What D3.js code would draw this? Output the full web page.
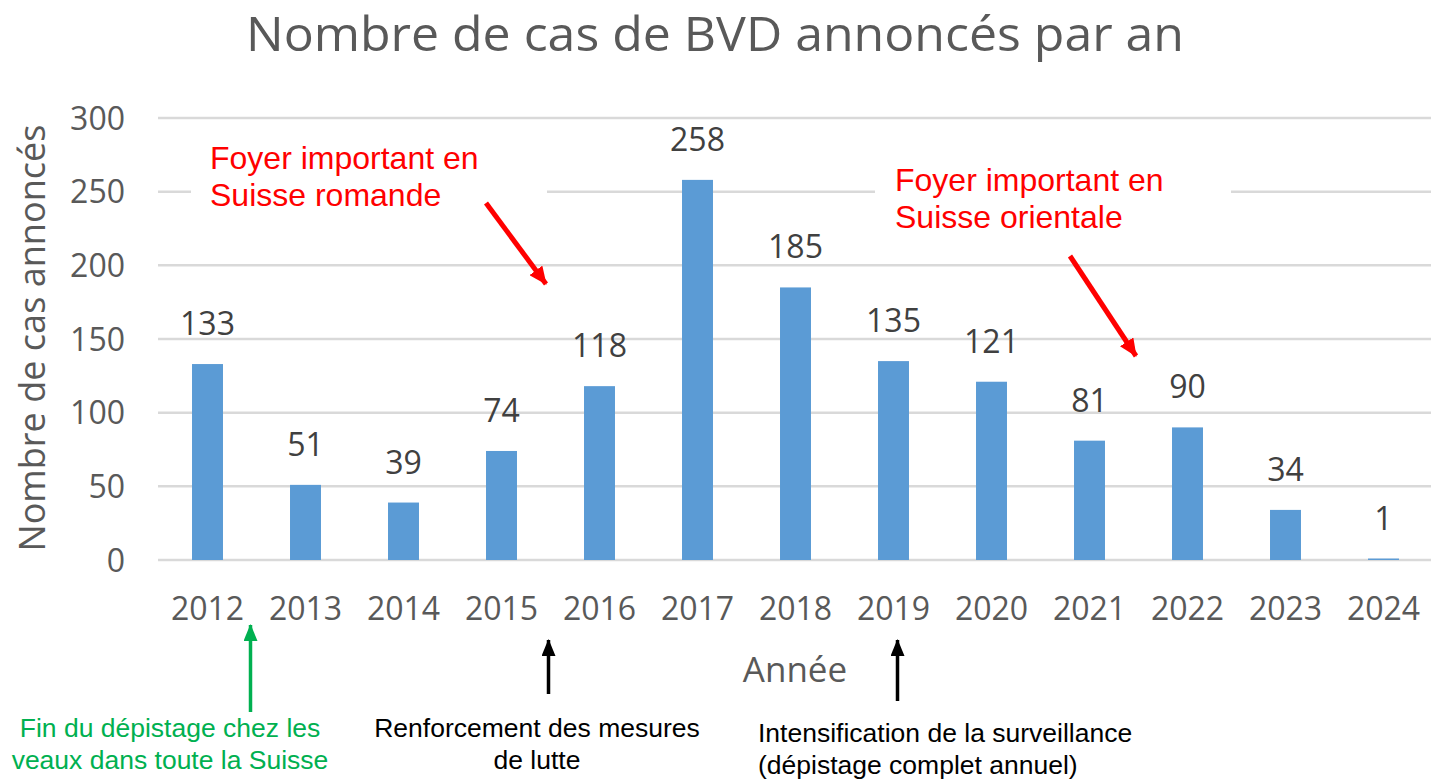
<!DOCTYPE html>
<html>
<head>
<meta charset="utf-8">
<script src="https://cdn.jsdelivr.net/npm/d3@7"></script>
<style>
  html, body { margin: 0; padding: 0; background: #fff; }
  svg { display: block; }
</style>
</head>
<body>
<svg id="chart" width="1431" height="780"></svg>
<script>
/** Chart data */
var years = ['2012', '2013', '2014', '2015', '2016', '2017', '2018', '2019', '2020', '2021', '2022', '2023', '2024'];
var cases = [133, 51, 39, 74, 118, 258, 185, 135, 121, 81, 90, 34, 1];
var yTicks = [0, 50, 100, 150, 200, 250, 300];

/** Red notes at the top (outbreaks) */
var outbreakLines = [
    ['Foyer important en', 'Suisse romande'],
    ['Foyer important en', 'Suisse orientale']
];

/** Notes below the axis */
var measureLines = [
    ['Fin du dépistage chez les', 'veaux dans toute la Suisse'],
    ['Renforcement des mesures', 'de lutte'],
    ['Intensification de la surveillance', '(dépistage complet annuel)']
];

var calibri = "'Open Sans', sans-serif",
    arial = "'Liberation Sans', Arial, sans-serif";

var svg = d3.select('#chart');

// Scales
var x = d3.scaleBand()
    .domain(years)
    .range([158.5, 1432.5])
    .paddingInner(0.684)
    .paddingOuter(0.342);

var y = d3.scaleLinear()
    .domain([0, 300])
    .range([560, 118]);

function cx(year) {
    return x(year) + x.bandwidth() / 2;
}

// Arrow heads
var defs = svg.append('defs');
function addMarker(id, color, w, l) {
    defs.append('marker')
        .attr('id', id)
        .attr('markerUnits', 'userSpaceOnUse')
        .attr('viewBox', '0 0 ' + l + ' ' + w)
        .attr('refX', l - 1)
        .attr('refY', w / 2)
        .attr('markerWidth', l)
        .attr('markerHeight', w)
        .attr('orient', 'auto')
        .append('path')
        .attr('d', 'M0,0L' + l + ',' + (w / 2) + 'L0,' + w + 'Z')
        .attr('fill', color);
}
addMarker('headRed', '#ff0000', 16, 18);
addMarker('headGreen', '#00b050', 14, 17);
addMarker('headBlack', '#000000', 14, 17);

// Gridlines
svg.append('g')
    .selectAll('line')
    .data(yTicks)
    .enter()
    .append('line')
    .attr('x1', 158)
    .attr('x2', 1431)
    .attr('y1', function(d) { return y(d); })
    .attr('y2', function(d) { return y(d); })
    .attr('stroke', '#d9d9d9')
    .attr('stroke-width', 2.5);

// Y tick labels
svg.append('g')
    .selectAll('text')
    .data(yTicks)
    .enter()
    .append('text')
    .attr('x', 125)
    .attr('y', function(d) { return y(d); })
    .attr('dy', '0.36em')
    .attr('text-anchor', 'end')
    .attr('font-family', calibri)
    .attr('font-size', 32)
    .attr('fill', '#595959')
    .text(function(d) { return d; });

// Bars
svg.append('g')
    .selectAll('rect')
    .data(cases)
    .enter()
    .append('rect')
    .attr('x', function(d, i) { return x(years[i]); })
    .attr('y', function(d) { return y(d); })
    .attr('width', x.bandwidth())
    .attr('height', function(d) { return y(0) - y(d); })
    .attr('fill', '#5b9bd5');

// Value labels
svg.append('g')
    .selectAll('text')
    .data(cases)
    .enter()
    .append('text')
    .attr('x', function(d, i) { return cx(years[i]); })
    .attr('y', function(d) { return y(d) - 29; })
    .attr('text-anchor', 'middle')
    .attr('font-family', calibri)
    .attr('font-size', 32)
    .attr('fill', '#404040')
    .text(function(d) { return d; });

// X labels
svg.append('g')
    .selectAll('text')
    .data(years)
    .enter()
    .append('text')
    .attr('x', function(d) { return cx(d); })
    .attr('y', 620)
    .attr('text-anchor', 'middle')
    .attr('font-family', calibri)
    .attr('font-size', 32)
    .attr('fill', '#595959')
    .text(function(d) { return d; });

// Title and axis titles
svg.append('text')
    .attr('x', 715)
    .attr('y', 51)
    .attr('text-anchor', 'middle')
    .attr('font-family', calibri)
    .attr('font-size', 48)
    .attr('textLength', 938)
    .attr('lengthAdjust', 'spacingAndGlyphs')
    .attr('fill', '#595959')
    .text('Nombre de cas de BVD annoncés par an');

svg.append('text')
    .attr('transform', 'translate(45,338) rotate(-90)')
    .attr('text-anchor', 'middle')
    .attr('font-family', calibri)
    .attr('font-size', 37)
    .attr('textLength', 427)
    .attr('lengthAdjust', 'spacingAndGlyphs')
    .attr('fill', '#595959')
    .text('Nombre de cas annoncés');

svg.append('text')
    .attr('x', 795)
    .attr('y', 682)
    .attr('text-anchor', 'middle')
    .attr('font-family', calibri)
    .attr('font-size', 35)
    .attr('fill', '#595959')
    .text('Année');

// Red outbreak notes, with white boxes that hide the gridline behind them
var outbreakPos = [
    { box: [191, 130, 356, 85], tx: 210, ty: 169, from: [486, 203], to: [546, 284] },
    { box: [875, 150, 356, 90], tx: 895, ty: 191, from: [1070, 256], to: [1136, 356] }
];

outbreakPos.forEach(function(p, i) {
    svg.append('rect')
        .attr('x', p.box[0]).attr('y', p.box[1])
        .attr('width', p.box[2]).attr('height', p.box[3])
        .attr('fill', '#fff');
    var t = svg.append('text')
        .attr('font-family', arial)
        .attr('font-size', 32)
        .attr('fill', '#ff0000');
    outbreakLines[i].forEach(function(line, j) {
        t.append('tspan').attr('x', p.tx).attr('y', p.ty + j * 36.5).text(line);
    });
    svg.append('line')
        .attr('x1', p.from[0]).attr('y1', p.from[1])
        .attr('x2', p.to[0]).attr('y2', p.to[1])
        .attr('stroke', '#ff0000')
        .attr('stroke-width', 5)
        .attr('marker-end', 'url(#headRed)');
});

// Notes under the x axis
var measurePos = [
    { color: '#00b050', head: 'headGreen', ax: (cx('2012') + cx('2013')) / 2 - 6, y1: 712, y2: 625,
      anchor: 'middle', tx: 170, ty: 737 },
    { color: '#000000', head: 'headBlack', ax: (cx('2015') + cx('2016')) / 2 - 2, y1: 694, y2: 640,
      anchor: 'middle', tx: 537, ty: 737 },
    { color: '#000000', head: 'headBlack', ax: cx('2019') + 4, y1: 701, y2: 640,
      anchor: 'start', tx: 758, ty: 742 }
];

measurePos.forEach(function(p, i) {
    svg.append('line')
        .attr('x1', p.ax).attr('y1', p.y1)
        .attr('x2', p.ax).attr('y2', p.y2)
        .attr('stroke', p.color)
        .attr('stroke-width', 3.5)
        .attr('marker-end', 'url(#' + p.head + ')');
    var t = svg.append('text')
        .attr('font-family', arial)
        .attr('font-size', 26.5)
        .attr('text-anchor', p.anchor)
        .attr('fill', p.color);
    measureLines[i].forEach(function(line, j) {
        t.append('tspan').attr('x', p.tx).attr('y', p.ty + j * 32).text(line);
    });
});
</script>
</body>
</html>
